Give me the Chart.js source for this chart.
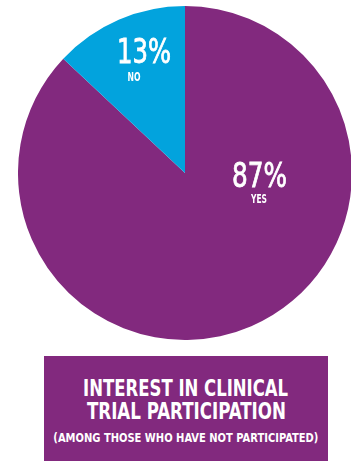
<!DOCTYPE html>
<html><head><meta charset="utf-8">
<script src="https://cdn.jsdelivr.net/npm/chart.js@4"></script>
<style>
html,body{margin:0;padding:0;background:#fff;width:351px;height:461px;overflow:hidden;position:relative}
#wrap{position:absolute;left:18px;top:6px;width:334px;height:334px}
#box{position:absolute;left:44px;top:356px;width:284px;height:105px;background:#82297e;color:#fff;font-family:"DejaVu Sans Condensed","DejaVu Sans",sans-serif;font-weight:bold}
#box div{position:absolute;left:-100px;width:484px;text-align:center;white-space:nowrap}
#box span{display:inline-block;transform-origin:50% 50%}
.big{font-size:23px;line-height:23px}
.small{font-size:13px;line-height:13px}
</style></head><body>
<div id="wrap"><canvas id="pie"></canvas></div>
<div id="box">
  <div class="big" style="top:20.5px"><span data-w="205">INTEREST IN CLINICAL</span></div>
  <div class="big" style="top:43.5px"><span data-w="199">TRIAL PARTICIPATION</span></div>
  <div class="small" style="top:75px"><span data-w="265">(AMONG THOSE WHO HAVE NOT PARTICIPATED)</span></div>
</div>
<script>
const labels = ["YES","NO"];
const values = [87,13];
const colors = ["#82297e","#02a3dd"];
// [dx, baseline dy] in units of the radius, and target widths in px
const pctPos = [[0.446,0.084],[-0.245,-0.659]];
const pctW = [55,54];
const catPos = [[0.443,0.18],[-0.305,-0.551]];
const catW = [16,13];
const FONT = '"DejaVu Sans Condensed","DejaVu Sans",sans-serif';

// squeeze the wide fallback font to the reference's condensed widths
document.querySelectorAll("#box span").forEach(s=>{
  s.style.transform = `scaleX(${s.dataset.w / s.getBoundingClientRect().width})`;
});

function fitText(ctx, t, x, y, w, stroke){
  const m = ctx.measureText(t).width;
  ctx.save(); ctx.translate(x,y); ctx.scale(w/m,1);
  if(stroke){ ctx.strokeStyle="#fff"; ctx.lineWidth=stroke; ctx.strokeText(t,0,0); }
  ctx.fillText(t,0,0); ctx.restore();
}

const pieLabels = {
  id:"pieLabels",
  afterDatasetsDraw(ch){
    const ctx = ch.ctx, arcs = ch.getDatasetMeta(0).data;
    arcs.forEach((a,i)=>{
      const r = a.outerRadius;
      ctx.save(); ctx.fillStyle="#fff"; ctx.textAlign="center"; ctx.textBaseline="alphabetic";
      ctx.font = "34px "+FONT;
      fitText(ctx, values[i]+"%", a.x+pctPos[i][0]*r, a.y+pctPos[i][1]*r, pctW[i], 0.8);
      ctx.font = "bold 12px "+FONT;
      fitText(ctx, labels[i], a.x+catPos[i][0]*r, a.y+catPos[i][1]*r, catW[i]);
      ctx.restore();
    });
  }
};

new Chart(document.getElementById("pie"),{type:"pie",
  data:{labels,datasets:[{data:values,backgroundColor:colors,borderWidth:0}]},
  options:{responsive:true,maintainAspectRatio:false,animation:false,
    layout:{padding:0},
    plugins:{legend:{display:false},tooltip:{enabled:false}}},
  plugins:[pieLabels]});
</script>
</body></html>
